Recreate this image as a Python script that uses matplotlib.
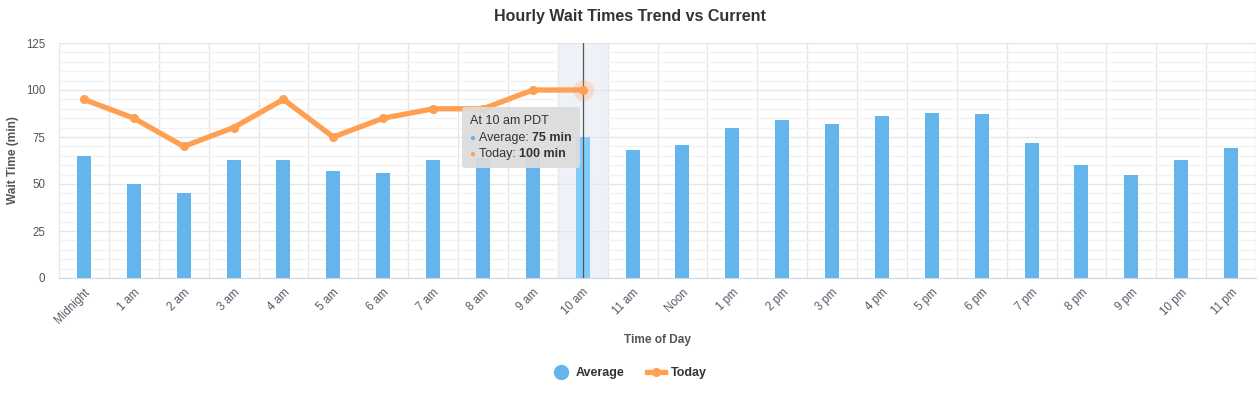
import numpy as np
import matplotlib.pyplot as plt
import matplotlib.transforms as mtransforms
from matplotlib.lines import Line2D
from matplotlib.offsetbox import TextArea, HPacker, VPacker, AnnotationBbox
from matplotlib.ticker import MultipleLocator

plt.rcParams['font.family'] = ['Liberation Sans', 'DejaVu Sans']

hours = ['Midnight', '1 am', '2 am', '3 am', '4 am', '5 am', '6 am', '7 am', '8 am', '9 am',
         '10 am', '11 am', 'Noon', '1 pm', '2 pm', '3 pm', '4 pm', '5 pm', '6 pm', '7 pm',
         '8 pm', '9 pm', '10 pm', '11 pm']
average = [65, 50, 45, 63, 63, 57, 56, 63, 64, 65, 75, 68, 71, 80, 84, 82, 86, 88, 87, 72,
           60, 55, 63, 69]
today = [95, 85, 70, 80, 95, 75, 85, 90, 90, 100, 100]
hover = 10  # hovered category (10 am)

bar_col = '#64b5eb'
line_col = '#ff9f52'

fig = plt.figure(figsize=(12.59, 3.97), dpi=100)
ax = fig.add_axes([59 / 1259, 1 - 278 / 397, 1197 / 1259, 235 / 397])

x = np.arange(len(hours))

# hover band + crosshair
ax.axvspan(hover - 0.5, hover + 0.5, color='#eef2f8', zorder=0.5, lw=0)

cols = [bar_col] * len(hours)
cols[hover] = '#80cdfc'
ax.bar(x, average, width=0.28, color=cols, zorder=2)
ax.axvline(hover, color='#555555', lw=0.9, zorder=2.5)

ax.plot(np.arange(len(today)), today, color=line_col, lw=3.8, marker='o', ms=5.5,
        solid_capstyle='round', solid_joinstyle='round', zorder=3)
ax.plot(hover, today[hover], 'o', ms=15, color=line_col, alpha=0.25, mec='none', zorder=2.8)

ax.set_xlim(-0.5, len(hours) - 0.5)
ax.set_ylim(0, 125)
ax.yaxis.set_major_locator(MultipleLocator(25))
ax.yaxis.set_minor_locator(MultipleLocator(5))
ax.grid(which='major', axis='y', color='#e6e6e6', lw=1, zorder=0)
ax.grid(which='minor', axis='y', color='#f2f2f2', lw=1, zorder=0)
ax.set_xticks(x)
ax.set_xticks(np.arange(-0.5, len(hours)), minor=True)
ax.grid(which='minor', axis='x', color='#e6e6e6', lw=1, zorder=0)
ax.set_axisbelow(True)

ax.set_xticklabels(hours, rotation=45, ha='right', rotation_mode='anchor',
                   fontsize=8.3, color='#555b66')
shift = mtransforms.ScaledTranslation(-9 / 100, -2 / 100, fig.dpi_scale_trans)
for lab in ax.get_xticklabels():
    lab.set_transform(lab.get_transform() + shift)
for lab in ax.get_yticklabels():
    lab.set_fontsize(8.3)
    lab.set_color('#555555')
ax.tick_params(axis='both', which='both', length=0)
ax.tick_params(axis='x', pad=6)
ax.tick_params(axis='y', pad=10)

for s in ['top', 'right', 'left']:
    ax.spines[s].set_visible(False)
ax.spines['bottom'].set_color('#ccd6eb')

ax.set_xlabel('Time of Day', fontsize=8.6, fontweight='bold', color='#555555', labelpad=6)
ax.set_ylabel('Wait Time (min)', fontsize=8.6, fontweight='bold', color='#555555', labelpad=5)
fig.text(0.5, 1 - 17 / 397, 'Hourly Wait Times Trend vs Current', ha='center', va='center',
         fontsize=11.5, fontweight='bold', color='#333333')

# tooltip
tp = dict(fontsize=9, color='#333333')
tb = dict(fontsize=9, color='#333333', fontweight='bold')
rows = [TextArea('At 10 am PDT', textprops=dict(fontsize=9, color='#333333'))]
for name, val, c in [('Average', average[hover], bar_col), ('Today', today[hover], line_col)]:
    rows.append(HPacker(children=[TextArea('\u25CF ', textprops=dict(fontsize=7, color=c)),
                                  TextArea(f'{name}: ', textprops=tp),
                                  TextArea(f'{val} min', textprops=tb)],
                        sep=0, pad=0, align='center'))
box = VPacker(children=rows, sep=3, pad=0, align='left')
ab = AnnotationBbox(box, (hover, today[hover]), xybox=(hover - 2.25, 86.5), xycoords='data',
                    boxcoords='data', box_alignment=(0, 1), pad=0.6, zorder=5,
                    bboxprops=dict(facecolor='#dcdcdc', edgecolor='none', alpha=0.92,
                                   boxstyle='round,pad=0.6,rounding_size=0.2'))
ax.add_artist(ab)

handles = [Line2D([], [], ls='none', marker='o', ms=10, color=bar_col),
           Line2D([], [], color=line_col, lw=3.8, marker='o', ms=5.5)]
leg = fig.legend(handles, ['Average', 'Today'], loc='center',
                 bbox_to_anchor=(0.5, 1 - 373 / 397), ncol=2, frameon=False,
                 prop=dict(size=9, weight='bold'), handlelength=1.4, columnspacing=1.8,
                 handletextpad=0.5)
for t in leg.get_texts():
    t.set_color('#333333')

fig.savefig('out.png', dpi=100, facecolor='white')
